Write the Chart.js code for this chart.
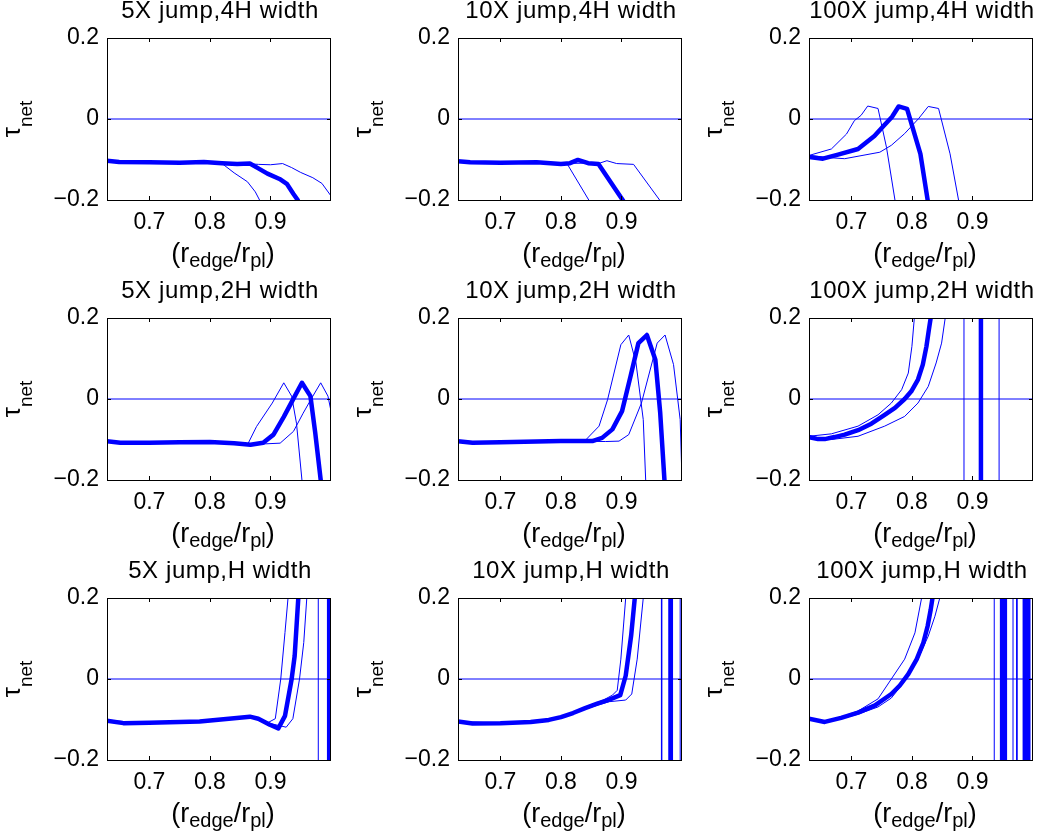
<!DOCTYPE html>
<html>
<head>
<meta charset="utf-8">
<script src="https://cdn.jsdelivr.net/npm/chart.js"></script>
<style>
html, body { margin: 0; padding: 0; background: #fff; }
#wrap { position: relative; width: 1042px; height: 839px; overflow: hidden; }
#wrap canvas { position: absolute; }
</style>
</head>
<body>
<div id="wrap"></div>
<script>
// ---- data ----
const xTicks = [0.7, 0.8, 0.9];
const yTicks = [-0.2, 0, 0.2];
const jumps = ['5X', '10X', '100X'];
const widths = ['4H', '2H', 'H'];
const zeroLine = [[0.63, 0], [1.0, 0]];

// 5X jump, 4H width
const j5w4Thick = [[0.63,-0.103],[0.65,-0.106],[0.7,-0.107],[0.75,-0.108],[0.79,-0.106],[0.82,-0.109],[0.845,-0.111],[0.866,-0.11],[0.88,-0.122],[0.895,-0.135],[0.915,-0.148],[0.927,-0.16],[0.938,-0.185],[0.945,-0.2],[0.95,-0.23]];
const j5w4Left = [[0.63,-0.103],[0.65,-0.106],[0.7,-0.107],[0.75,-0.108],[0.8,-0.108],[0.82,-0.11],[0.84,-0.133],[0.862,-0.155],[0.875,-0.18],[0.882,-0.2],[0.89,-0.23]];
const j5w4Right = [[0.63,-0.103],[0.65,-0.106],[0.7,-0.107],[0.75,-0.108],[0.8,-0.107],[0.85,-0.109],[0.88,-0.112],[0.9,-0.113],[0.92,-0.11],[0.935,-0.12],[0.95,-0.132],[0.97,-0.145],[0.985,-0.159],[1.0,-0.19]];

// 10X jump, 4H width
const j10w4Thick = [[0.63,-0.104],[0.65,-0.107],[0.7,-0.108],[0.76,-0.107],[0.8,-0.111],[0.815,-0.109],[0.828,-0.101],[0.845,-0.109],[0.862,-0.111],[0.902,-0.2],[0.91,-0.22]];
const j10w4Left = [[0.63,-0.104],[0.65,-0.107],[0.7,-0.108],[0.76,-0.107],[0.8,-0.11],[0.81,-0.11],[0.846,-0.2],[0.85,-0.21]];
const j10w4Right = [[0.63,-0.104],[0.7,-0.108],[0.76,-0.107],[0.8,-0.11],[0.84,-0.109],[0.862,-0.11],[0.876,-0.103],[0.892,-0.11],[0.92,-0.112],[0.963,-0.2],[0.97,-0.215]];

// 100X jump, 4H width
const j100w4Thick = [[0.63,-0.094],[0.653,-0.098],[0.678,-0.088],[0.711,-0.074],[0.738,-0.042],[0.755,-0.014],[0.767,0.005],[0.778,0.031],[0.792,0.025],[0.814,-0.086],[0.826,-0.2],[0.83,-0.24]];
const j100w4Left = [[0.63,-0.09],[0.667,-0.074],[0.692,-0.037],[0.705,-0.004],[0.716,0.009],[0.727,0.032],[0.744,0.026],[0.758,-0.07],[0.772,-0.2],[0.776,-0.24]];
const j100w4Right = [[0.63,-0.09],[0.66,-0.095],[0.689,-0.098],[0.747,-0.082],[0.766,-0.065],[0.788,-0.036],[0.811,0.001],[0.827,0.031],[0.844,0.026],[0.863,-0.086],[0.877,-0.2],[0.882,-0.24]];

// 5X jump, 2H width
const j5w2Thick = [[0.63,-0.104],[0.652,-0.108],[0.7,-0.108],[0.75,-0.107],[0.8,-0.106],[0.84,-0.109],[0.867,-0.113],[0.888,-0.108],[0.905,-0.088],[0.922,-0.044],[0.938,0.001],[0.952,0.04],[0.966,0.007],[0.974,-0.084],[0.983,-0.2],[0.986,-0.25]];
const j5w2Left = [[0.63,-0.104],[0.7,-0.108],[0.8,-0.106],[0.845,-0.109],[0.863,-0.11],[0.877,-0.068],[0.903,-0.01],[0.922,0.04],[0.935,0.007],[0.943,-0.06],[0.952,-0.2],[0.955,-0.25]];
const j5w2Right = [[0.63,-0.104],[0.7,-0.108],[0.8,-0.106],[0.86,-0.11],[0.888,-0.111],[0.916,-0.109],[0.938,-0.08],[0.954,-0.035],[0.968,0.002],[0.983,0.04],[0.995,0.007],[1.0,-0.03]];

// 10X jump, 2H width
const j10w2Thick = [[0.63,-0.104],[0.654,-0.108],[0.7,-0.107],[0.8,-0.104],[0.852,-0.104],[0.868,-0.096],[0.885,-0.075],[0.901,-0.03],[0.915,0.056],[0.928,0.138],[0.942,0.158],[0.956,0.097],[0.964,-0.034],[0.971,-0.2],[0.973,-0.25]];
const j10w2Left = [[0.63,-0.104],[0.7,-0.107],[0.8,-0.104],[0.841,-0.101],[0.863,-0.067],[0.877,-0.002],[0.899,0.134],[0.912,0.158],[0.924,0.089],[0.936,-0.051],[0.94,-0.2],[0.941,-0.25]];
const j10w2Right = [[0.63,-0.104],[0.7,-0.107],[0.8,-0.104],[0.874,-0.105],[0.896,-0.104],[0.912,-0.088],[0.933,-0.01],[0.959,0.138],[0.972,0.158],[0.986,0.085],[0.997,-0.051],[1.0,-0.2]];

// 100X jump, 2H width
const j100w2Thick = [[0.63,-0.094],[0.645,-0.099],[0.656,-0.099],[0.672,-0.094],[0.689,-0.088],[0.711,-0.077],[0.733,-0.061],[0.755,-0.039],[0.772,-0.022],[0.788,0.0],[0.799,0.019],[0.81,0.048],[0.818,0.085],[0.824,0.13],[0.828,0.171],[0.831,0.2],[0.836,0.3],[0.85,0.8],[0.9135,6],[0.9145,-6],[0.95,-1],[1.0,-0.5]];
const j100w2Left = [[0.63,-0.092],[0.667,-0.086],[0.711,-0.067],[0.744,-0.039],[0.766,-0.01],[0.783,0.023],[0.794,0.064],[0.8,0.13],[0.804,0.2],[0.808,0.3],[0.82,0.8],[0.8855,6],[0.8865,-6],[0.93,-1],[1.0,-0.5]];
const j100w2Right = [[0.63,-0.092],[0.667,-0.1],[0.711,-0.092],[0.755,-0.067],[0.788,-0.043],[0.81,-0.01],[0.827,0.031],[0.84,0.089],[0.849,0.138],[0.855,0.2],[0.86,0.3],[0.88,0.8],[0.9435,6],[0.9445,-6],[0.97,-1],[1.0,-0.6]];

// 5X jump, H width
const j5w1Thick = [[0.63,-0.103],[0.657,-0.109],[0.7,-0.108],[0.783,-0.105],[0.84,-0.097],[0.866,-0.093],[0.88,-0.098],[0.899,-0.113],[0.913,-0.122],[0.924,-0.091],[0.935,0.0],[0.94,0.057],[0.946,0.2],[0.95,0.5],[0.9965,6],[0.9975,-6],[1.0,-3]];
const j5w1Left = [[0.63,-0.103],[0.7,-0.108],[0.783,-0.105],[0.866,-0.093],[0.893,-0.11],[0.908,-0.098],[0.917,0.0],[0.924,0.115],[0.929,0.2],[0.935,0.5],[0.9785,6],[0.9795,-6],[1.0,-2]];
const j5w1Right = [[0.63,-0.103],[0.7,-0.108],[0.783,-0.105],[0.866,-0.093],[0.9,-0.11],[0.926,-0.119],[0.937,-0.098],[0.948,0.0],[0.955,0.09],[0.96,0.2],[0.97,0.6],[1.0,4]];

// 10X jump, H width
const j10w1Thick = [[0.63,-0.105],[0.654,-0.11],[0.7,-0.109],[0.75,-0.106],[0.78,-0.101],[0.8,-0.094],[0.82,-0.084],[0.84,-0.072],[0.86,-0.061],[0.88,-0.051],[0.898,-0.04],[0.907,0.008],[0.916,0.107],[0.922,0.2],[0.93,0.6],[0.9805,6],[0.9815,-6],[1.0,-2]];
const j10w1Left = [[0.63,-0.105],[0.654,-0.11],[0.7,-0.109],[0.75,-0.106],[0.8,-0.093],[0.84,-0.07],[0.87,-0.052],[0.885,-0.04],[0.893,-0.028],[0.899,0.049],[0.907,0.2],[0.915,0.6],[0.9655,6],[0.9665,-6],[1.0,-1.5]];
const j10w1Right = [[0.63,-0.105],[0.7,-0.109],[0.75,-0.106],[0.8,-0.095],[0.84,-0.074],[0.88,-0.056],[0.907,-0.052],[0.917,-0.037],[0.926,0.049],[0.936,0.2],[0.945,0.6],[0.9965,6],[0.9975,-6],[1.0,-4]];

// 100X jump, H width
const j100w1Thick = [[0.63,-0.098],[0.656,-0.106],[0.683,-0.096],[0.711,-0.083],[0.739,-0.065],[0.766,-0.037],[0.78,-0.016],[0.794,0.012],[0.808,0.049],[0.819,0.09],[0.826,0.131],[0.831,0.171],[0.834,0.2],[0.85,0.6],[0.9485,8],[0.9495,-8],[0.9525,-8],[0.9535,8],[0.986,8],[0.987,-8],[0.9905,-8],[0.9915,8],[1.0,8]];
const j100w1Left = [[0.63,-0.098],[0.656,-0.105],[0.683,-0.094],[0.711,-0.079],[0.744,-0.049],[0.766,0.0],[0.788,0.049],[0.805,0.114],[0.816,0.2],[0.84,0.6],[0.9355,8],[0.9365,-8],[0.9665,-8],[0.9675,8],[1.0,8]];
const j100w1Right = [[0.63,-0.098],[0.656,-0.106],[0.683,-0.098],[0.711,-0.087],[0.744,-0.069],[0.766,-0.047],[0.791,0.0],[0.81,0.049],[0.827,0.106],[0.838,0.155],[0.846,0.2],[0.86,0.6],[0.9725,8],[0.9735,-8],[0.9945,-8],[0.9955,8],[1.0,8]];

// rows = width, cols = jump
const panels = [
  [[j5w4Thick, j5w4Left, j5w4Right], [j10w4Thick, j10w4Left, j10w4Right], [j100w4Thick, j100w4Left, j100w4Right]],
  [[j5w2Thick, j5w2Left, j5w2Right], [j10w2Thick, j10w2Left, j10w2Right], [j100w2Thick, j100w2Left, j100w2Right]],
  [[j5w1Thick, j5w1Left, j5w1Right], [j10w1Thick, j10w1Left, j10w1Right], [j100w1Thick, j100w1Left, j100w1Right]]
];

// ---- drawing ----
const FONT = '"Liberation Sans", Arial, Helvetica, sans-serif';
const BLUE = '#0000ff';
Chart.defaults.font.family = FONT;
Chart.defaults.color = '#000';

function pts(arr) { return arr.map(p => ({x: p[0], y: p[1]})); }

// text with subscripts, centred on x=0, baseline y=0
function drawRich(ctx, parts, mainSize, subSize, subDrop) {
  let w = 0;
  parts.forEach(p => {
    ctx.font = (p.sub ? subSize : mainSize) + 'px ' + FONT;
    w += ctx.measureText(p.t).width;
  });
  let x = -w / 2;
  parts.forEach(p => {
    ctx.font = (p.sub ? subSize : mainSize) + 'px ' + FONT;
    ctx.fillText(p.t, x, p.sub ? subDrop : 0);
    x += ctx.measureText(p.t).width;
  });
}

const panelDecor = {
  id: 'panelDecor',
  afterDraw(chart, args, opts) {
    const {ctx, chartArea: a, scales} = chart;
    ctx.save();
    ctx.strokeStyle = '#000';
    ctx.lineWidth = 1;
    ctx.strokeRect(a.left + 0.5, a.top + 0.5, a.right - a.left - 1, a.bottom - a.top);
    // inward ticks on all four sides
    ctx.beginPath();
    xTicks.forEach(v => {
      const px = Math.round(scales.x.getPixelForValue(v)) + 0.5;
      ctx.moveTo(px, a.bottom); ctx.lineTo(px, a.bottom - 4);
      ctx.moveTo(px, a.top); ctx.lineTo(px, a.top + 4);
    });
    yTicks.forEach(v => {
      const py = Math.round(scales.y.getPixelForValue(v)) + 0.5;
      ctx.moveTo(a.left, py); ctx.lineTo(a.left + 4, py);
      ctx.moveTo(a.right, py); ctx.lineTo(a.right - 4, py);
    });
    ctx.stroke();

    ctx.fillStyle = '#000';
    ctx.textBaseline = 'alphabetic';
    // title
    ctx.save();
    ctx.font = '24px ' + FONT;
    ctx.letterSpacing = '0.6px';
    ctx.textAlign = 'center';
    ctx.fillText(opts.title, (a.left + a.right) / 2 + 1, a.top - 20);
    ctx.restore();
    ctx.textAlign = 'left';
    // x label
    ctx.save();
    ctx.translate((a.left + a.right) / 2 + 4, a.bottom + 62);
    drawRich(ctx, [{t: '(r'}, {t: 'edge', sub: true}, {t: '/r'}, {t: 'pl', sub: true}, {t: ')'}], 27, 20, 5);
    ctx.restore();
    // y label
    ctx.save();
    ctx.translate(20, (a.top + a.bottom) / 2);
    ctx.rotate(-Math.PI / 2);
    drawRich(ctx, [{t: '\u03c4'}, {t: 'net', sub: true}], 26, 19, 12);
    ctx.restore();
    ctx.restore();
  }
};

const wrap = document.getElementById('wrap');
const CW = 351, CH = 280;

for (let r = 0; r < 3; r++) {
  for (let c = 0; c < 3; c++) {
    const cv = document.createElement('canvas');
    cv.width = CW; cv.height = CH;
    cv.style.left = (c * 351) + 'px';
    cv.style.top = (r * 280) + 'px';
    cv.style.width = CW + 'px';
    cv.style.height = CH + 'px';
    wrap.appendChild(cv);

    const [thick, left, right] = panels[r][c];
    const line = (data, w, order) => ({
      data: pts(data), borderColor: BLUE, backgroundColor: BLUE, borderWidth: w,
      pointRadius: 0, tension: 0, fill: false, clip: 0, order,
      borderJoinStyle: 'round'
    });

    new Chart(cv, {
      type: 'line',
      data: {
        datasets: [
          line(thick, 4.5, 0),
          line(left, 1, 1),
          line(right, 1, 1),
          line(zeroLine, 1, 2)
        ]
      },
      plugins: [panelDecor],
      options: {
        responsive: false,
        animation: false,
        events: [],
        layout: {padding: {top: 38, left: 0, right: 20, bottom: 0}},
        plugins: {
          legend: {display: false},
          title: {display: false},
          tooltip: {enabled: false},
          panelDecor: {title: jumps[c] + ' jump,' + widths[r] + ' width'}
        },
        scales: {
          x: {
            type: 'linear', min: 0.63, max: 1.0,
            grid: {display: false, drawTicks: false},
            border: {display: false},
            afterFit: s => { s.height = 80; },
            afterBuildTicks: s => { s.ticks = xTicks.map(v => ({value: v})); },
            ticks: {font: {size: 23}, padding: 9, maxRotation: 0, callback: v => String(v)}
          },
          y: {
            type: 'linear', min: -0.2, max: 0.2,
            grid: {display: false, drawTicks: false},
            border: {display: false},
            afterFit: s => { s.width = 107; },
            afterBuildTicks: s => { s.ticks = yTicks.map(v => ({value: v})); },
            ticks: {font: {size: 23}, padding: 8, callback: v => v < 0 ? '\u2212' + Math.abs(v) : String(v)}
          }
        }
      }
    });
  }
}
</script>
</body>
</html>
